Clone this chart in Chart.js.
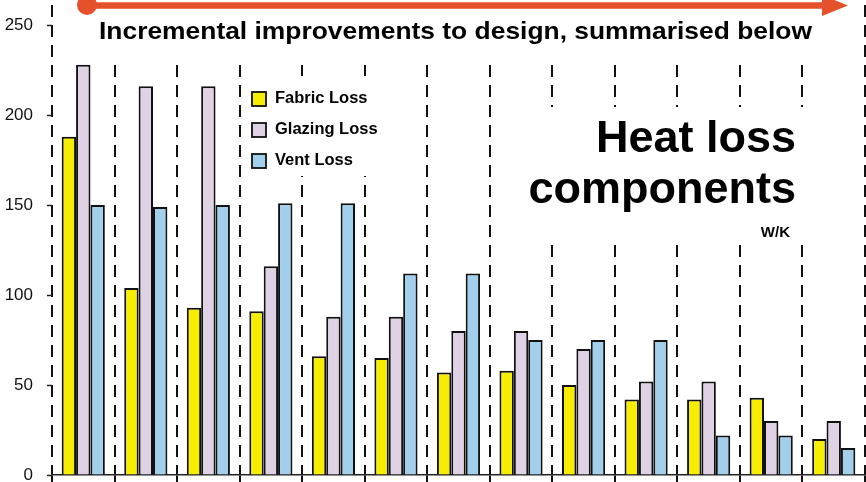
<!DOCTYPE html>
<html>
<head>
<meta charset="utf-8">
<script src="https://cdn.jsdelivr.net/npm/chart.js@4.4.0/dist/chart.umd.min.js"></script>
<style>
  html,body{margin:0;padding:0;background:#fff}
  canvas{display:block}
</style>
</head>
<body>
<canvas id="chart" width="866" height="482"></canvas>
<script>
// =============================================================
// Data — heat loss per design step, W/K
// =============================================================
const STEPS   = ["1","2","3","4","5","6","7","8","9","10","11","12","13"];
const FABRIC  = [188, 104,  93,  91,  66,  65,  57,  58,  50,  42,  42,  43,  20];
const GLAZING = [228, 216, 216, 116,  88,  88,  80,  80,  70,  52,  52,  30,  30];
const VENT    = [150, 149, 150, 151, 151, 112, 112,  75,  75,  75,  22,  22,  15];
const Y_TICKS = [0, 50, 100, 150, 200, 250];
const Y_MAX   = 264;

const TITLE   = "Incremental improvements to design, summarised below";
const HEADING = ["Heat loss", "components"];
const UNITS   = "W/K";

const FONT  = '"Liberation Sans", Arial, Helvetica, sans-serif';
const ARROW = "#e4512a";

// text with a bit of horizontal stretch (x is the anchor for the current textAlign)
function wideText(ctx, s, x, y, sx){
  ctx.save();
  ctx.translate(x, y);
  ctx.scale(sx, 1);
  ctx.fillText(s, 0, 0);
  ctx.restore();
}

// =============================================================
// Overlay: white patches over the dashed grid, captions, arrow, legend
// =============================================================
const overlay = {
  id: "overlay",
  beforeDatasetsDraw(chart){
    const ctx = chart.ctx;
    ctx.save();

    // blank out grid behind the text blocks
    ctx.fillStyle = "#fff";
    ctx.fillRect(56, 0, 804, 57);
    ctx.fillRect(246, 76, 156, 100);
    ctx.fillRect(515, 107, 297, 134);

    // progress arrow
    ctx.strokeStyle = ARROW; ctx.fillStyle = ARROW;
    ctx.lineWidth = 6.5;
    ctx.beginPath(); ctx.moveTo(88, 5.5); ctx.lineTo(826, 5.5); ctx.stroke();
    ctx.beginPath(); ctx.arc(87, 5, 10, 0, Math.PI*2); ctx.fill();
    ctx.beginPath(); ctx.moveTo(822, -5); ctx.lineTo(848, 5.5); ctx.lineTo(822, 16); ctx.closePath(); ctx.fill();

    // captions
    ctx.fillStyle = "#000";
    ctx.textBaseline = "alphabetic";
    ctx.textAlign = "left";
    ctx.font = "bold 24px " + FONT;
    wideText(ctx, TITLE, 99, 39, 1.1);

    ctx.textAlign = "right";
    ctx.font = "bold 45px " + FONT;
    ctx.fillText(HEADING[0], 796, 152);
    ctx.fillText(HEADING[1], 796, 203);
    ctx.font = "bold 15px " + FONT;
    ctx.fillText(UNITS, 790, 237);

    // legend
    ctx.textAlign = "left";
    ctx.textBaseline = "middle";
    ctx.font = "bold 16px " + FONT;
    chart.data.datasets.forEach((ds,i)=>{
      const y = 99 + i*31;
      ctx.fillStyle = ds.backgroundColor;
      ctx.fillRect(252, y-7, 14, 14);
      ctx.strokeStyle = "#111"; ctx.lineWidth = 1.8;
      ctx.strokeRect(252, y-7, 14, 14);
      ctx.fillStyle = "#000";
      wideText(ctx, ds.label, 275, y, 1.03);
    });

    ctx.restore();
  }
};

// =============================================================
// Chart
// =============================================================
const bar = (label, data, color) => ({
  label, data,
  backgroundColor: color,
  borderColor: "#111",
  borderWidth: 2,
  borderSkipped: "start",
  categoryPercentage: 0.69,
  barPercentage: 1.0
});

new Chart(document.getElementById("chart"), {
  type: "bar",
  data: {
    labels: STEPS,
    datasets: [
      bar("Fabric Loss",  FABRIC,  "#f6ed00"),
      bar("Glazing Loss", GLAZING, "#dfd2e4"),
      bar("Vent Loss",    VENT,    "#a2cfeb")
    ]
  },
  options: {
    responsive: false,
    animation: false,
    devicePixelRatio: 1,
    layout: { padding: { left: 0, right: 1, top: 0, bottom: 0 } },
    plugins: { legend: { display: false }, tooltip: { enabled: false } },
    scales: {
      x: {
        offset: true,
        grid: {
          offset: true,
          color: "#111",
          lineWidth: 2,
          tickLength: 7,
          tickBorderDash: [],
          tickColor: "#111",
          tickWidth: 2
        },
        border: { display: true, color: "#222", width: 1.5, dash: [12, 8], dashOffset: 15 },
        ticks: { display: false }
      },
      y: {
        min: 0,
        max: Y_MAX,
        afterBuildTicks: s => { s.ticks = Y_TICKS.map(v => ({ value: v })); },
        afterFit: s => { s.width = 52; s.paddingTop = 0; s.paddingBottom = 0; },
        grid: {
          drawOnChartArea: false,
          tickLength: 5,
          tickColor: "#222",
          tickWidth: 1.5,
          tickBorderDash: []
        },
        border: { display: false },
        ticks: { color: "#111", padding: 14, font: { family: FONT, size: 17 } }
      }
    }
  },
  plugins: [overlay]
});
</script>
</body>
</html>
